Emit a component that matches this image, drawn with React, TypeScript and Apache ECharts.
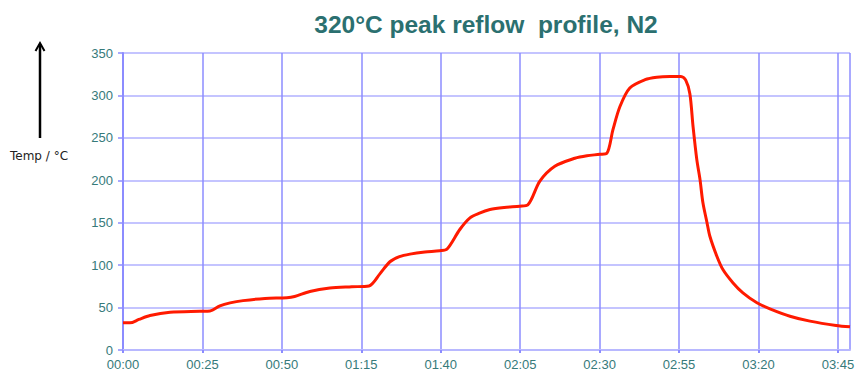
import React, { useEffect, useRef } from "react";
import * as echarts from "echarts";

const TITLE = "320°C peak reflow  profile, N2";
const Y_LABEL = "Temp / °C";
// time in seconds
const timeSec = [0, 2.2, 5, 8.5, 14.8, 24.2, 27.4, 30.5, 33.7, 37.8, 44.7, 51.6, 54, 58.8, 65.1, 72, 77.4, 80.9, 84, 87, 90.3, 95, 99.7, 102, 106, 109.2, 112, 115.5, 120, 124.9, 127.4, 131.2, 135.9, 142.2, 146, 150.1, 152.3, 154.2, 156.4, 159.5, 164.3, 168, 172.1, 175.6, 177.1, 178.4, 179.4, 180.6, 181.6, 182.5, 183.8, 184.7, 186.9, 188.8, 192, 195.1, 199.5, 203.6, 209.9, 216.2, 224.4, 228.8];
const tempC = [32, 32, 36, 40.6, 44.5, 45.7, 46, 52, 55.5, 58.2, 60.8, 61.6, 63, 69, 73, 74.5, 75.5, 90, 104, 110, 113, 115.5, 117, 119, 142, 155.7, 161, 165.5, 168, 169.5, 171, 199, 216.5, 226, 229, 230.6, 232, 259.7, 287, 308.8, 318.6, 321.5, 322.3, 322.3, 318, 302, 263.6, 224, 200.8, 173.7, 150, 134, 110.5, 94.8, 79, 67.3, 55.6, 48.5, 39.8, 34, 28.9, 27.3];

const fmt = (v: number) => {
  const m = Math.floor(v / 60);
  const s = Math.round(v % 60);
  return String(m).padStart(2, "0") + ":" + String(s).padStart(2, "0");
};

export default function App() {
  const ref = useRef<HTMLDivElement>(null);
  useEffect(() => {
    const chart = echarts.init(ref.current!, null, { renderer: "svg" });
    const teal = "#367a7a";
    chart.setOption({
      animation: false,
      backgroundColor: "#fff",
      title: {
        text: TITLE,
        left: 481,
        textAlign: "center",
        top: 7,
        textStyle: { color: "#2b7070", fontSize: 24.5, fontWeight: "bold", fontFamily: "Liberation Sans, Arial" },
      },
      grid: { left: 123, right: 15, top: 53, bottom: 33 },
      xAxis: {
        type: "value",
        min: 0,
        max: 228.8,
        interval: 25,
        axisLine: { show: true, lineStyle: { color: "#b8b8ff", width: 2 } },
        axisTick: { show: true, length: 3, lineStyle: { color: "#8c8cff", width: 2 } },
        splitLine: { show: true, lineStyle: { color: "#8c8cff", width: 1.5 } },
        axisLabel: {
          color: teal,
          fontSize: 13,
          fontFamily: "Liberation Sans, Arial",
          margin: 8,
          formatter: (v: number) => (v % 25 === 0 ? fmt(v) : ""),
          showMaxLabel: false,
        },
      },
      yAxis: {
        type: "value",
        min: 0,
        max: 350,
        interval: 50,
        axisLine: { show: true, lineStyle: { color: "#8c8cff", width: 2 } },
        axisTick: { show: true, length: 5, lineStyle: { color: "#8c8cff", width: 1.5 } },
        splitLine: { show: true, lineStyle: { color: "#c4c4ff", width: 2 } },
        axisLabel: { color: teal, fontSize: 13, fontFamily: "Liberation Sans, Arial", margin: 10 },
      },
      graphic: [
        { type: "line", shape: { x1: 40, y1: 44, x2: 40, y2: 138 }, style: { stroke: "#000", lineWidth: 2.5 } },
        { type: "polyline", shape: { points: [[35.5, 51], [40, 43], [44.5, 51]] }, style: { stroke: "#000", lineWidth: 2, fill: null } },
        { type: "text", left: 10, top: 150, style: { text: Y_LABEL, fill: "#222", fontSize: 12, fontFamily: "DejaVu Sans" } },
      ],
      series: [
        {
          type: "line",
          data: timeSec.map((t, i) => [t, tempC[i]]),
          smooth: 0.3,
          showSymbol: false,
          lineStyle: { color: "#ff1a00", width: 3 },
        },
      ],
    });
    return () => chart.dispose();
  }, []);
  return <div ref={ref} style={{ width: 865, height: 383, position: "absolute", left: 0, top: 0 }} />;
}
